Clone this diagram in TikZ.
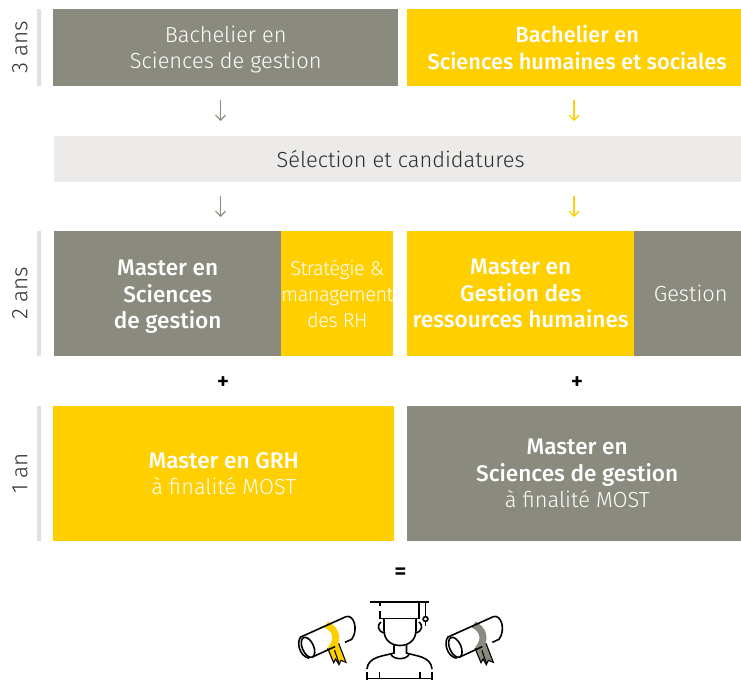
\documentclass[tikz,border=0pt]{standalone}
\usepackage{fontspec}
\setmainfont{Fira Sans Light}[BoldFont={Fira Sans Medium}]
\usetikzlibrary{arrows.meta}
\definecolor{grisb}{HTML}{8B8A7F}
\definecolor{jaune}{HTML}{FFCF00}
\definecolor{clair}{HTML}{ECEBEA}
\definecolor{texte}{HTML}{2E2E2E}
\tikzset{
 box/.style={draw=none,inner sep=0pt,align=center,font=\fontsize{21.8}{26.5}\selectfont,minimum height=#1},
 gbox/.style={box=#1,fill=grisb,text=white},
 ybox/.style={box=#1,fill=jaune,text=white},
 dur/.style={rotate=90,font=\fontsize{22.5}{24}\selectfont,text=texte,inner sep=0pt},
 sidebar/.style={fill=clair!90!gray,draw=none},
 arr/.style={-{Straight Barb[length=5pt,width=10pt]},line width=1.2pt},
 sym/.style={font=\fontsize{24}{26}\bfseries\selectfont,text=black,inner sep=0pt},
 ico/.style={line width=1.6pt,draw=black,line cap=butt},
}
\newcommand{\mb}[1]{{\fontsize{22.6}{26.5}\bfseries\selectfont #1}}
\newcommand{\drawscroll}[2]{%
\begin{scope}[shift={(#1,550)},x=0.3333pt,y=-0.3333pt]
\fill[#2] (143,295) -- (161,338) -- (167,327) -- (177,344) -- (183,331) -- (198,337) -- (176,280) -- cycle;
\draw[ico,line width=1.1pt] (143,295) -- (161,338) -- (167,327) -- (177,344) -- (183,331) -- (198,337) -- (176,280);
\draw[ico,line width=1.1pt] (162,296) -- (177,340);
\draw[#2,line width=7pt] (139,224) .. controls (165,236) and (180,265) .. (152,298);
\draw[ico] (60,262) -- (198,200) .. controls (222,192) and (236,240) .. (215,268) -- (195,277);
\draw[ico] (165,290) -- (95,322);
\draw[ico] (62,262) .. controls (50,272) and (55,318) .. (88,325);
\draw[ico,rotate around={24:(84,292)}] (84,292) ellipse (17 and 32);
\end{scope}}
\begin{document}
\begin{tikzpicture}[x=1pt,y=-1pt]
\useasboundingbox (0,0) rectangle (741,680);
\node[gbox=77pt,minimum width=345pt,anchor=north west] (bg) at (53,9) {\rule{0pt}{20pt}Bachelier en\\Sciences de gestion};
\node[ybox=77pt,minimum width=334pt,anchor=north west] (by) at (407,9) {\hspace{6pt}\textbf{Bachelier en}\\\hspace{6pt}\textbf{Sciences humaines et sociales}};
\node[box=46pt,fill=clair,text=texte,minimum width=687pt,anchor=north west] (sel) at (54,136) {\hspace{6pt}Sélection et candidatures};
\node[gbox=125pt,minimum width=227pt,anchor=north west] (mg) at (54,231) {\rule{0pt}{22pt}\mb{Master en}\\\mb{Sciences}\\\mb{de gestion}};
\node[ybox=125pt,minimum width=111pt,anchor=north west,font=\fontsize{20}{26}\selectfont\addfontfeatures{LetterSpace=-2.5}] (sm) at (281,231) {Stratégie \&\\management\\des RH};
\node[ybox=125pt,minimum width=227pt,anchor=north west] (my) at (407,231) {\mb{Master en}\\\mb{Gestion des}\\\mb{ressources humaines}};
\node[gbox=125pt,minimum width=107pt,anchor=north west] (ge) at (634,231) {\hspace{6pt}Gestion};
\node[ybox=135pt,minimum width=341pt,anchor=north west] (fy) at (53,406) {\mb{Master en GRH}\\à finalité MOST};
\node[gbox=135pt,minimum width=334pt,anchor=north west] (fg) at (407,406) {\hspace{6pt}\mb{Master en}\\\hspace{6pt}\mb{Sciences de gestion}\\\hspace{6pt}à finalité MOST};
\fill[sidebar] (37,9) rectangle (41,86) (37,231) rectangle (41,356) (37,406) rectangle (41,541);
\node[dur] (d3) at (20,47.5) {3 ans};
\node[dur] (d2) at (20,293.5) {2 ans};
\node[dur] (d1) at (20,473.5) {1 an};
\coordinate (xg) at (220.5,0);
\coordinate (xy) at (574,0);
\draw[arr,grisb,shorten <=14pt,shorten >=15pt] (bg.south -| xg) -- (sel.north -| xg);
\draw[arr,jaune,shorten <=14pt,shorten >=15pt] (by.south -| xy) -- (sel.north -| xy);
\draw[arr,grisb,shorten <=14pt,shorten >=14pt] (sel.south -| xg) -- (mg.north -| xg);
\draw[arr,jaune,shorten <=14pt,shorten >=14pt] (sel.south -| xy) -- (my.north -| xy);
\node[sym] (p1) at (223,383) {+};
\node[sym] (p2) at (577,383) {+};
\node[sym] (eq) at (400.5,574) {=};
% person
\begin{scope}[ico]
\draw (370,602) -- (429,602);
\draw (380,602) -- (380,606) (380,611) -- (380,619);
\draw (419,602) -- (419,619);
\draw (380,618.5) -- (419,618.5);
\draw (425.5,602) -- (425.5,616.5);
\draw (425.5,619) circle (2.4);
\draw (425.5,621.5) -- (425.5,626);
\draw (384,618.5) -- (384,630) .. controls (384,640) and (391,645.5) .. (400,645.5) .. controls (409,645.5) and (416,640) .. (416,630) -- (416,618.5);
\draw (381,622) .. controls (377,624) and (377,632) .. (385,633);
\draw (419,622) .. controls (423,624) and (423,632) .. (415,633);
\draw (394,644) -- (394,653) .. controls (385,656) and (368,656) .. (367,669);
\draw (406.5,644) -- (406.5,653) .. controls (415,656) and (431,656) .. (432,669);
\draw (391,654.5) .. controls (394,660) and (406,660) .. (409,654.5);
\draw (367,672) -- (367,680) (432,672) -- (432,680);
\draw (367,678.5) -- (432,678.5);
\draw (379.5,672) -- (379.5,678) (420,672) -- (420,678);
\end{scope}
\drawscroll{280}{jaune}
\drawscroll{427.33}{grisb}
\end{tikzpicture}
\end{document}
